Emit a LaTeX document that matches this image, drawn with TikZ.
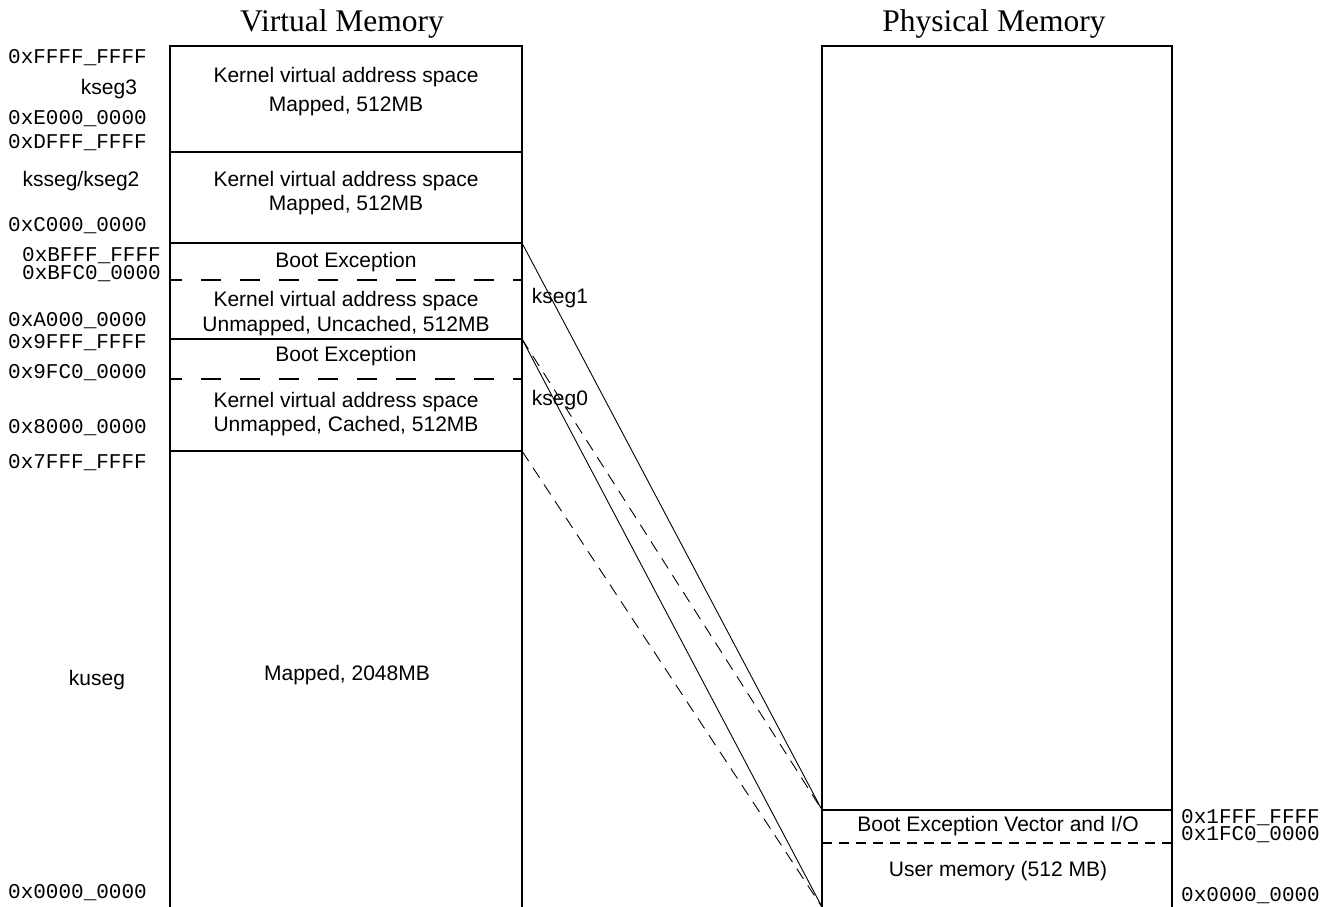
\documentclass[tikz,border=0pt]{standalone}
\usepackage{fontspec}
\setmainfont{Liberation Serif}
\newfontfamily\sansf{Liberation Sans}
\newfontfamily\monof{Liberation Mono}
\begin{document}
\begin{tikzpicture}[x=1pt,y=-1pt,
  box/.style={line width=1.8pt},
  sepline/.style={line width=1.8pt, dash pattern=on 20pt off 19pt, dash phase=8pt},
  psepline/.style={line width=1.8pt, dash pattern=on 10pt off 7pt},
  mapline/.style={line width=0.9pt},
  mapdash/.style={line width=0.9pt, dash pattern=on 12pt off 8pt},
  addr/.style={font=\monof\fontsize{21}{21}\selectfont, inner sep=0pt, anchor=base west},
  txt/.style={font=\sansf\fontsize{21}{21}\selectfont, inner sep=0pt, anchor=base},
  ttl/.style={font=\fontsize{31.5}{31.5}\selectfont, inner sep=0pt, anchor=base}]
\useasboundingbox (0,0) rectangle (1331,907);

% titles
\node[ttl] (tv) at (342,32) {Virtual Memory};
\node[ttl] (tp) at (994,32) {Physical Memory};

% virtual memory box
\draw[box] (170,907) -- (170,46) -- (522,46) -- (522,907);
\draw[box] (170,152) -- (522,152);
\draw[box] (170,243) -- (522,243);
\draw[sepline] (170,280) -- (522,280);
\draw[box] (170,339) -- (522,339);
\draw[sepline] (170,379) -- (522,379);
\draw[box] (170,451) -- (522,451);

% physical memory box
\draw[box] (822,907) -- (822,46) -- (1172,46) -- (1172,907);
\draw[box] (822,810) -- (1172,810);
\draw[psepline] (822,843) -- (1172,843);

% mapping coordinates
\coordinate (vB) at (522,243);
\coordinate (v9) at (522,339);
\coordinate (v7) at (522,451);
\coordinate (p1) at (822,810);
\coordinate (p0) at (822,907);

\draw[mapline] (vB) -- (p1);
\draw[mapline] (v9) -- (p0);
\draw[mapdash] (v9) -- (p1);
\draw[mapdash] (v7) -- (p0);

% texts in virtual box
\node[txt] (k3a) at (346,83) {Kernel virtual address space};
\node[txt] (k3b) at (346,111) {Mapped, 512MB};
\node[txt] (k2a) at (346,186) {Kernel virtual address space};
\node[txt] (k2b) at (346,210) {Mapped, 512MB};
\node[txt] (b1) at (346,267) {Boot Exception};
\node[txt] (k1a) at (346,306) {Kernel virtual address space};
\node[txt] (k1b) at (346,331) {Unmapped, Uncached, 512MB};
\node[txt] (b0) at (346,361) {Boot Exception};
\node[txt] (k0a) at (346,407) {Kernel virtual address space};
\node[txt] (k0b) at (346,431) {Unmapped, Cached, 512MB};
\node[txt] (ku) at (347,680) {Mapped, 2048MB};

% segment names
\node[txt] (s3) at (109,95) {kseg3};
\node[txt] (s2) at (81,186) {ksseg/kseg2};
\node[txt] (s1) at (560,303) {kseg1};
\node[txt] (s0) at (560,405) {kseg0};
\node[txt] (su) at (97,685) {kuseg};

% physical texts
\node[txt] (pb) at (998,831) {Boot Exception Vector and I/O};
\node[txt] (pu) at (998,876) {User memory (512 MB)};

% virtual addresses
\node[addr] (aFFFF) at (8,64) {0xFFFF\_FFFF};
\node[addr] (aE000) at (8,124) {0xE000\_0000};
\node[addr] (aDFFF) at (8,148) {0xDFFF\_FFFF};
\node[addr] (aC000) at (8,231) {0xC000\_0000};
\node[addr] (aBFFF) at (22,261) {0xBFFF\_FFFF};
\node[addr] (aBFC0) at (22,279) {0xBFC0\_0000};
\node[addr] (aA000) at (8,326) {0xA000\_0000};
\node[addr] (a9FFF) at (8,348) {0x9FFF\_FFFF};
\node[addr] (a9FC0) at (8,378) {0x9FC0\_0000};
\node[addr] (a8000) at (8,433) {0x8000\_0000};
\node[addr] (a7FFF) at (8,468) {0x7FFF\_FFFF};
\node[addr] (a0000) at (8,898) {0x0000\_0000};

% physical addresses
\node[addr] (p1FFF) at (1181,823) {0x1FFF\_FFFF};
\node[addr] (p1FC0) at (1181,840) {0x1FC0\_0000};
\node[addr] (p0000) at (1181,901) {0x0000\_0000};
\end{tikzpicture}
\end{document}
